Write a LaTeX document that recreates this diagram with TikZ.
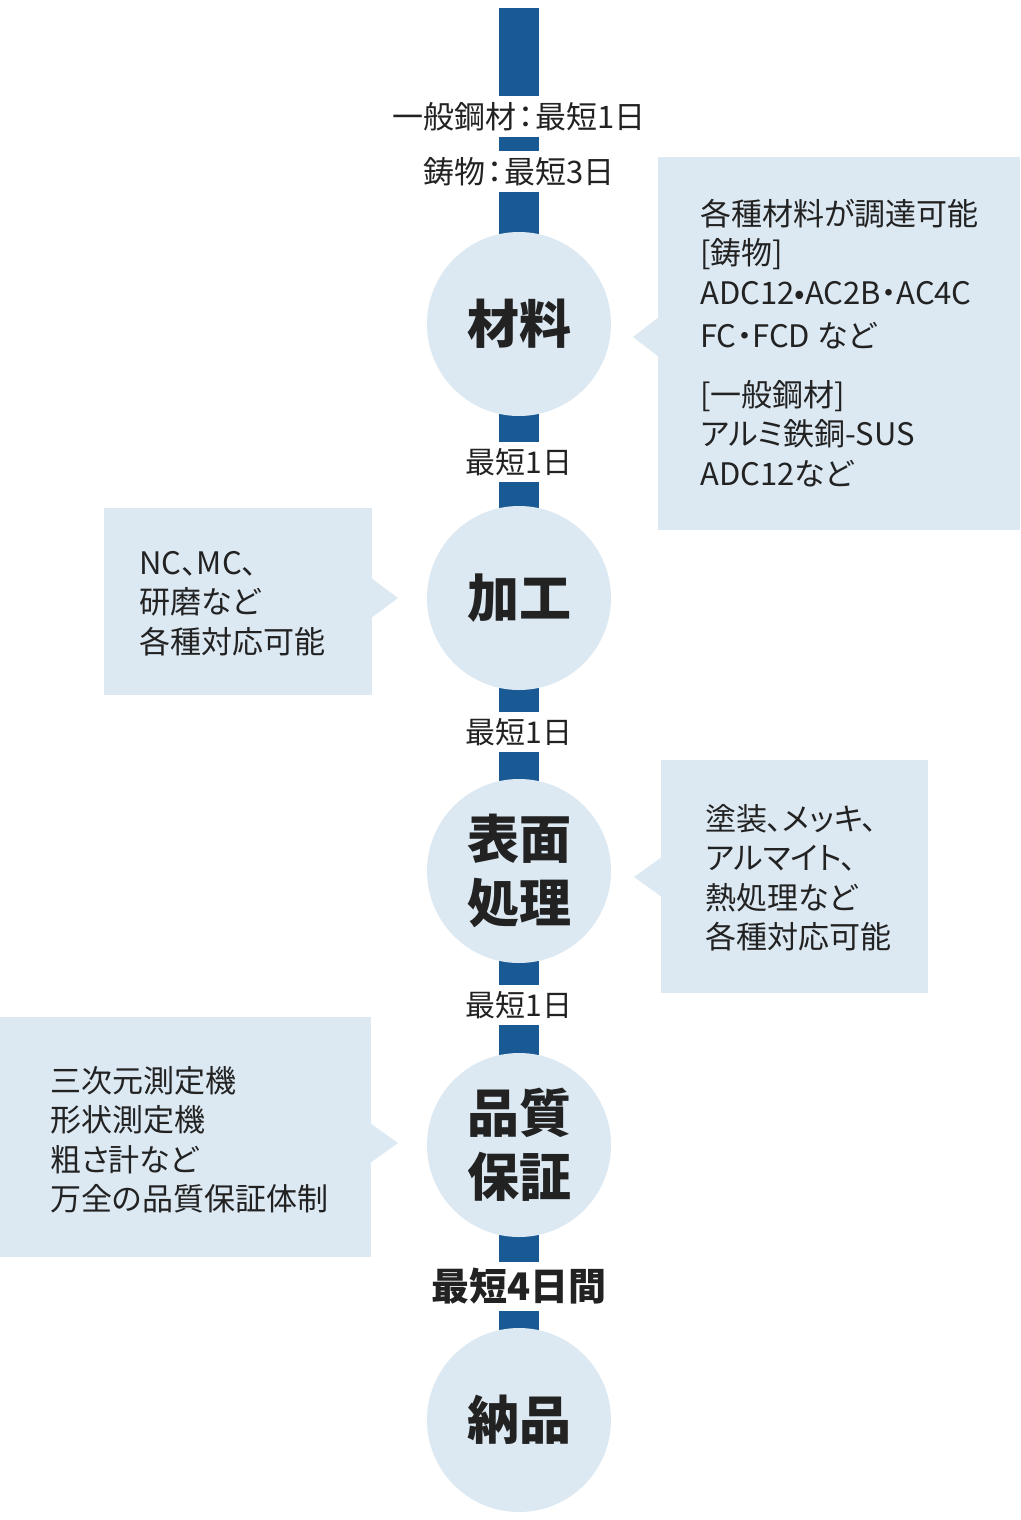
\documentclass[tikz,border=0pt]{standalone}
\usepackage{fontspec}
\setmainfont{Noto Sans CJK JP}[RawFeature={+palt}]
\usetikzlibrary{backgrounds}
\definecolor{barblue}{HTML}{1A5A94}
\definecolor{pale}{HTML}{DCE9F2}
\definecolor{ink}{HTML}{222222}
\newcommand{\colonsep}{\kern2pt：\kern2pt}
\begin{document}
\begin{tikzpicture}[x=1pt,y=-1pt,
  stage/.style={circle, fill=pale, minimum size=184pt, inner sep=0pt, text=ink,
    font=\fontsize{52}{64}\selectfont\bfseries, align=center},
  dur/.style={inner sep=0pt, minimum height=40pt, text=ink, font=\fontsize{30}{36}\selectfont},
  bar/.style={draw=barblue, line width=40pt},
  panel/.style={fill=pale, inner sep=0pt, anchor=north west},
  note/.style={anchor=north west, inner sep=0pt, align=left, text=ink,
    font=\fontsize{31}{39.5}\selectfont}]
\useasboundingbox (0,0) rectangle (1020,1520);

% stages
\node[stage] (m1) at (519,324) {材料};
\node[stage] (m2) at (519,598) {加工};
\node[stage] (m3) at (519,871) {表面\\処理};
\node[stage] (m4) at (519,1145) {品質\\保証};
\node[stage] (m5) at (519,1420) {納品};

% durations
\node[dur, font=\fontsize{31}{36}\selectfont] (l0a) at (519,116.5) {一般鋼材\colonsep 最短1日};
\node[dur, font=\fontsize{31}{36}\selectfont] (l0b) at (519,171.5) {鋳物\colonsep 最短3日};
\node[dur] (l1) at (519,462) {最短1日};
\node[dur] (l2) at (519,732) {最短1日};
\node[dur] (l3) at (519,1005) {最短1日};
\node[dur, minimum height=49pt, font=\fontsize{38}{44}\selectfont\bfseries] (l4) at (519,1286.5) {最短4日間};
\coordinate (top) at (519,8);

% panels
\node[panel, minimum width=362pt, minimum height=373pt] (b1) at (658,157) {};
\fill[pale] (659,317) -- (633,337) -- (659,357) -- cycle;
\node[note] (t1) at (700,199) {各種材料が調達可能\\[0pt]
[鋳物]\\
ADC12•AC2B・AC4C\\[4pt]
FC・FCD など\\[19pt]
[一般鋼材]\\
アルミ鉄銅-SUS\\
ADC12など};

\node[panel, minimum width=268pt, minimum height=187pt] (b2) at (104,508) {};
\fill[pale] (371,578) -- (398,598) -- (371,618) -- cycle;
\node[note] (t2) at (139,551) {NC、MC、\\研磨など\\各種対応可能};

\node[panel, minimum width=267pt, minimum height=233pt] (b3) at (661,760) {};
\fill[pale] (662,857) -- (634,877) -- (662,897) -- cycle;
\node[note] (t3) at (705,804) {塗装、メッキ、\\アルマイト、\\熱処理など\\各種対応可能};

\node[panel, minimum width=371pt, minimum height=240pt] (b4) at (0,1017) {};
\fill[pale] (370,1123) -- (398,1143) -- (370,1163) -- cycle;
\node[note] (t4) at (50,1066) {三次元測定機\\形状測定機\\粗さ計など\\万全の品質保証体制};

% timeline bar
\begin{pgfonlayer}{background}
\fill[white] (0,0) rectangle (1020,1520);
\draw[bar] (top) -- (l0a.north);
\draw[bar] (l0a.south) -- (l0b.north);
\draw[bar, shorten >=-6pt] (l0b.south) -- (m1.north);
\draw[bar, shorten <=-6pt] (m1.south) -- (l1.north);
\draw[bar, shorten >=-6pt] (l1.south) -- (m2.north);
\draw[bar, shorten <=-6pt] (m2.south) -- (l2.north);
\draw[bar, shorten >=-6pt] (l2.south) -- (m3.north);
\draw[bar, shorten <=-6pt] (m3.south) -- (l3.north);
\draw[bar, shorten >=-6pt] (l3.south) -- (m4.north);
\draw[bar, shorten <=-6pt] (m4.south) -- (l4.north);
\draw[bar, shorten >=-6pt] (l4.south) -- (m5.north);
\end{pgfonlayer}
\end{tikzpicture}
\end{document}
